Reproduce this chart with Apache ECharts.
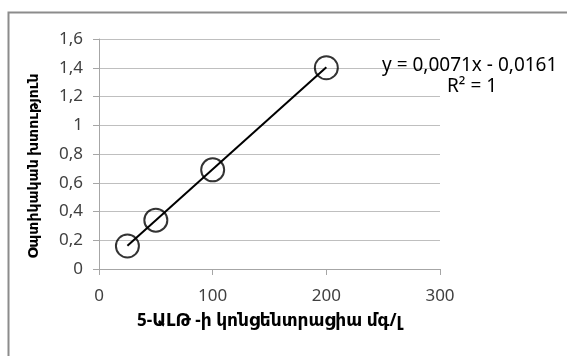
<!DOCTYPE html>
<html>
<head>
<meta charset="utf-8">
<script src="https://cdn.jsdelivr.net/npm/echarts@6/dist/echarts.min.js"></script>
<style>html,body{margin:0;padding:0;background:#fff;}#c{width:567px;height:356px;}</style>
</head>
<body>
<div id="c"></div>
<script>
var concentrations = [25, 50, 100, 200];
var opticalDensity = [0.16, 0.34, 0.69, 1.40];
var trendX = [25, 200];
var trendY = [0.161, 1.404];
var equationText = 'y = 0,0071x - 0,0161';
var r2Text = 'R² = 1';
var xTitle = '5-ԱԼԹ -ի կոնցենտրացիա մգ/լ';
var yTitle = 'Օպտիկական խտություն';

var FONT = '"Noto Sans", "DejaVu Sans", sans-serif';
var chart = echarts.init(document.getElementById('c'), null, {renderer: 'canvas'});
chart.setOption({
  animation: false,
  backgroundColor: '#fff',
  grid: {left: 99, right: 127, top: 39, bottom: 87},
  xAxis: {
    type: 'value', min: 0, max: 300, interval: 100,
    name: xTitle, nameLocation: 'middle', nameGap: 44,
    nameTextStyle: {fontFamily: FONT, fontSize: 17, fontWeight: 'bold', color: '#000'},
    axisLine: {show: true, lineStyle: {color: '#a6a6a6', width: 1}},
    axisTick: {show: true, length: 6, lineStyle: {color: '#a6a6a6'}},
    axisLabel: {fontFamily: FONT, fontSize: 17, color: '#404040', margin: 19},
    splitLine: {show: false}
  },
  yAxis: {
    type: 'value', min: 0, max: 1.6, interval: 0.2,
    axisLine: {show: true, lineStyle: {color: '#a6a6a6', width: 1}},
    axisTick: {show: true, length: 6, lineStyle: {color: '#a6a6a6'}},
    axisLabel: {fontFamily: FONT, fontSize: 17, color: '#404040', margin: 16,
      formatter: function (v) { return String(Math.round(v * 10) / 10).replace('.', ','); }},
    splitLine: {show: true, lineStyle: {color: '#bfbfbf', width: 1}}
  },
  graphic: [
    {type: 'rect', left: 6, top: 10, shape: {width: 620, height: 420},
     style: {fill: 'none', stroke: '#8c8c8c', lineWidth: 2}, silent: true, z: 100},
    {type: 'text', x: 34, y: 166, rotation: Math.PI / 2,
     style: {text: yTitle, font: 'bold 14px ' + FONT, fill: '#000', align: 'center', verticalAlign: 'middle'}, z: 101},
    {type: 'text', x: 382, y: 66, style: {text: equationText, font: '19px ' + FONT, fill: '#000', verticalAlign: 'middle'}, z: 101},
    {type: 'text', x: 447, y: 87, style: {text: r2Text, font: '19px ' + FONT, fill: '#000', verticalAlign: 'middle'}, z: 101}
  ],
  series: [
    {
      type: 'line', data: trendX.map(function (x, i) { return [x, trendY[i]]; }),
      symbol: 'none', lineStyle: {color: '#000', width: 2}, z: 3
    },
    {
      type: 'scatter', data: concentrations.map(function (x, i) { return [x, opticalDensity[i]]; }),
      symbol: 'circle', symbolSize: 23,
      itemStyle: {color: 'rgba(0,0,0,0)', borderColor: '#000', borderWidth: 2}, z: 4
    }
  ]
});
</script>
</body>
</html>
